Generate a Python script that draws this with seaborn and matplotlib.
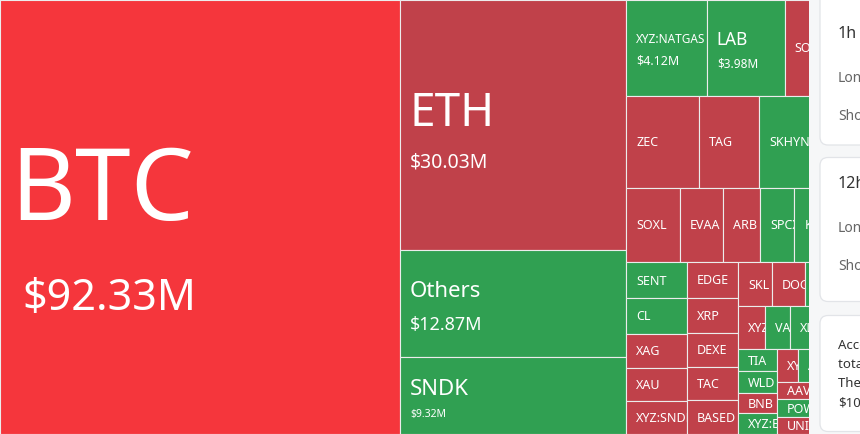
import matplotlib
matplotlib.use("Agg")
import matplotlib.pyplot as plt
import seaborn as sns
from matplotlib.patches import Rectangle, FancyBboxPatch
from matplotlib.transforms import Bbox, TransformedBbox

# ---------------- data (liquidations, million USD) ----------------
symbols = ["BTC", "ETH", "Others", "SNDK", "XYZ:NATGAS", "LAB", "SOL", "ZEC", "TAG",
           "SKHYNIX", "HYPE", "SOXL", "EVAA", "ARB", "SPCX", "KAITO", "XPL",
           "SENT", "CL", "XAG", "XAU", "XYZ:SNDK", "EDGE", "XRP", "DEXE", "TAC", "BASED",
           "SKL", "DOGE", "PUMP", "ENA", "XYZ:TSLA", "VANA", "XLM", "LTC", "ASTER",
           "TIA", "WLD", "BNB", "XYZ:EUR", "XYZ:META", "AVAX", "LINK", "SUI",
           "AAVE", "POWR", "UNI", "ADA", "FARTCOIN", "WIF", "ONDO", "TRUMP", "NEAR", "OP"]
amounts = [92.33, 30.03, 12.87, 9.32, 4.12, 3.98, 3.84, 3.57, 2.94,
           2.80, 2.13, 2.12, 1.70, 1.46, 1.34, 1.30, 1.28,
           1.17, 1.14, 1.11, 1.08, 1.05, 0.97, 0.96, 0.92, 0.91, 0.91,
           0.80, 0.78, 0.66, 0.64, 0.61, 0.59, 0.55, 0.53, 0.51,
           0.46, 0.45, 0.43, 0.43, 0.36, 0.36, 0.35, 0.35,
           0.31, 0.30, 0.30, 0.28, 0.26, 0.24, 0.22, 0.18, 0.14, 0.08]
tone = ["hot", "red", "green", "green", "green", "green", "red", "red", "red",
        "green", "red", "red", "red", "red", "green", "green", "red",
        "green", "green", "red", "red", "red", "red", "red", "red", "red", "red",
        "red", "red", "green", "red", "red", "green", "green", "red", "green",
        "green", "green", "red", "green", "red", "green", "red", "green",
        "red", "green", "red", "green", "red", "green", "red", "green", "red", "green"]

card_titles = ["1h", "12h"]
card_rows = ["Long", "Short"]
note_lines = ["According to the data,", "total liquidations", "The largest single", "$10.62M"]

# ---------------- styles ----------------
TONE_COLORS = {"hot": "#f5363c", "red": "#c0414a", "green": "#30a052"}
# name size (pt), value size (pt), value x-indent (px) for cells showing the amount
LABEL_STYLE = {"BTC": (72, 31, 12), "ETH": (33, 14, 0), "Others": (16, 13, 0),
               "SNDK": (16, 7.5, 0), "XYZ:NATGAS": (8.5, 9, 0), "LAB": (12.5, 8.5, 0)}
DEFAULT_NAME_PT = 9
LAYOUT_W, LAYOUT_H = 860.0, 434.0
VISIBLE_W = 808.5
PHI = 0.5 * (1 + 5 ** 0.5)


def squarify(values, x, y, w, h):
    """ECharts-style squarified treemap (golden square ratio)."""
    total = float(sum(values))
    areas = [v * w * h / total for v in values]
    rect = [x, y, w, h]
    out = [None] * len(values)

    def worst(idx, fixed):
        s = sum(areas[j] for j in idx)
        if s == 0:
            return float("inf")
        f = fixed * fixed * PHI
        return max(f * max(areas[j] for j in idx) / (s * s),
                   s * s / (f * min(areas[j] for j in idx)))

    def place(idx, fixed, flush):
        horizontal = fixed == rect[2]
        s = sum(areas[j] for j in idx)
        other = s / fixed if fixed else 0
        along0 = rect[0] if horizontal else rect[1]
        along_len = rect[2] if horizontal else rect[3]
        cross_len = rect[3] if horizontal else rect[2]
        if flush or other > cross_len:
            other = cross_len
        last = along0
        for k, j in enumerate(idx):
            step = areas[j] / other if other else 0
            remain = along0 + along_len - last
            mod = remain if (k == len(idx) - 1 or remain < step) else step
            if horizontal:
                out[j] = (last, rect[1], mod, other)
            else:
                out[j] = (rect[0], last, other, mod)
            last += mod
        if horizontal:
            rect[1] += other
            rect[3] -= other
        else:
            rect[0] += other
            rect[2] -= other

    fixed = min(rect[2], rect[3])
    row, best, i = [], float("inf"), 0
    while i < len(areas):
        row.append(i)
        score = worst(row, fixed)
        if score <= best:
            best = score
            i += 1
        else:
            row.pop()
            place(row, fixed, False)
            fixed = min(rect[2], rect[3])
            row, best = [], float("inf")
    if row:
        place(row, fixed, True)
    return out


sns.set_theme(style="white")
plt.rcParams["font.family"] = ["Noto Sans", "DejaVu Sans"]

fig = plt.figure(figsize=(8.6, 4.34), dpi=100)
fig.patch.set_facecolor("#f6f7f8")

ax = fig.add_axes([0, 0, VISIBLE_W / 860.0, 1])
ax.set_xlim(0, VISIBLE_W)
ax.set_ylim(LAYOUT_H, 0)
ax.axis("off")

px = 100.0 / 72.0  # pixels per point
CAP = 0.714
PAD = 10

rects = squarify(amounts, 0, 0, LAYOUT_W, LAYOUT_H)
for name, val, tn, (x, y, w, h) in zip(symbols, amounts, tone, rects):
    patch = Rectangle((x, y), w, h, facecolor=TONE_COLORS[tn],
                      edgecolor="#ececec", linewidth=0.8)
    ax.add_patch(patch)
    if x + PAD >= VISIBLE_W:
        continue  # label hidden behind the side panel
    clip = TransformedBbox(Bbox.from_extents(x, y, min(x + w, VISIBLE_W), y + h),
                           ax.transData)
    cy = y + h / 2
    texts = []
    if name in LABEL_STYLE:
        fn, fv, dx = LABEL_STYLE[name]
        capn, capv = CAP * fn * px, CAP * fv * px
        gap = 0.25 * fn * px + 0.8 * fv * px
        G = capn + gap + capv
        top = cy - G / 2 + 0.12 * fn * px
        texts.append(ax.text(x + PAD, top + capn, name, color="white", fontsize=fn,
                             va="baseline", ha="left"))
        texts.append(ax.text(x + PAD + dx, top + G, f"${val:.2f}M", color="white",
                             fontsize=fv, va="baseline", ha="left"))
    else:
        capn = CAP * DEFAULT_NAME_PT * px
        texts.append(ax.text(x + PAD, cy + capn / 2, name, color="white",
                             fontsize=DEFAULT_NAME_PT, va="baseline", ha="left"))
    for t in texts:
        t.set_clip_on(True)
        t.set_clip_box(clip)

# ---------------- side cards ----------------
ax2 = fig.add_axes([0, 0, 1, 1], zorder=5)
ax2.set_xlim(0, 860)
ax2.set_ylim(434, 0)
ax2.axis("off")

card_boxes = [(-20, 165), (157.5, 144), (315.5, 116)]
for k, (ty, hh) in enumerate(card_boxes):
    card = FancyBboxPatch((820, ty), 120, hh, boxstyle="round,pad=0,rounding_size=8",
                          facecolor="white", edgecolor="#e2e4e8", linewidth=0.9)
    ax2.add_patch(card)
    if k < 2:
        title_y = [38.5, 188.5][k]
        ax2.text(838, title_y, card_titles[k], fontsize=11.5, color="#333333",
                 fontweight="medium", va="baseline", ha="left")
        ax2.text(838, title_y + 43.5, card_rows[0], fontsize=10, color="#666666",
                 va="baseline", ha="left")
        ax2.text(838, title_y + 81.5, card_rows[1], fontsize=10, color="#666666",
                 va="baseline", ha="left")
    else:
        for n, line in enumerate(note_lines):
            ax2.text(838, 348.5 + n * 19.2, line, fontsize=9.5, color="#333333",
                     va="baseline", ha="left")

fig.savefig("out.png", dpi=100, facecolor=fig.get_facecolor())
